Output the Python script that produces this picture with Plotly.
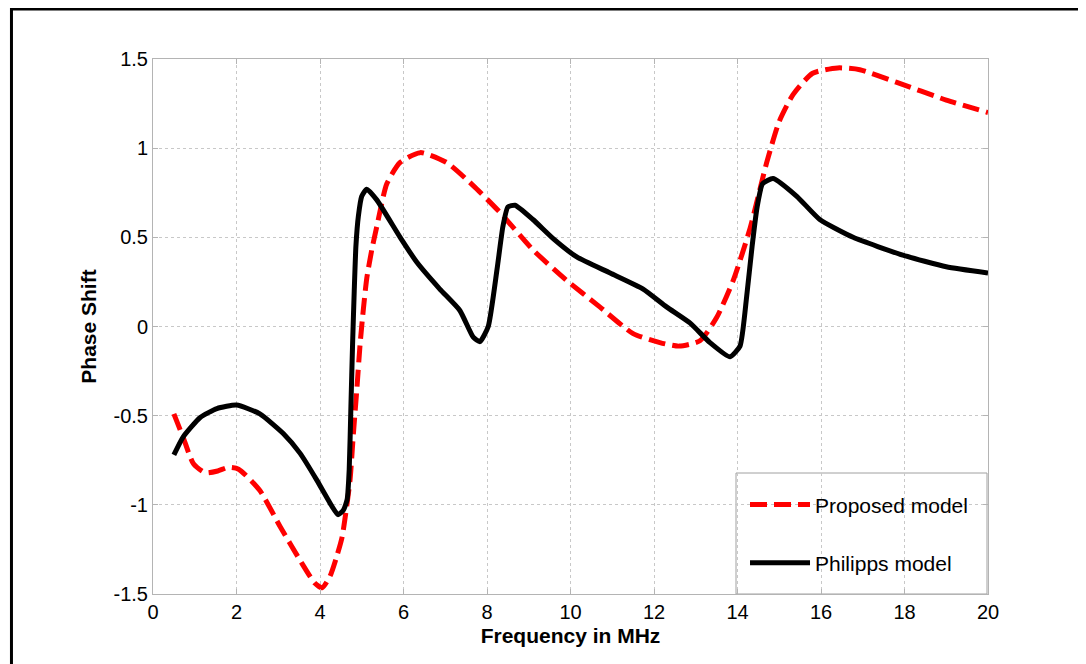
import plotly.graph_objects as go

# Proposed model (red dashed)
prop_x = [0.5, 0.72, 0.97, 1.25, 1.55, 1.8, 2.05, 2.56, 3.04, 3.52, 3.88, 4.05, 4.24, 4.4, 4.53,
          4.65, 4.72, 4.8, 4.88, 4.96, 5.04, 5.12, 5.24, 5.36, 5.6, 5.92, 6.4, 7.03, 7.67, 8.31,
          9.1, 9.9, 10.7, 11.5, 12.14, 12.6, 13.1, 13.5, 13.9, 14.3, 14.7, 15.0, 15.33, 15.8,
          16.4, 16.93, 17.8, 19.0, 20.0]
prop_y = [-0.49, -0.62, -0.77, -0.82, -0.81, -0.79, -0.80, -0.92, -1.12, -1.31, -1.44, -1.465, -1.40, -1.29, -1.18,
          -0.99, -0.86, -0.60, -0.36, -0.10, 0.10, 0.27, 0.43, 0.56, 0.80, 0.92, 0.975, 0.92, 0.79, 0.64,
          0.43, 0.26, 0.11, -0.04, -0.09, -0.11, -0.08, 0.05, 0.26, 0.55, 0.92, 1.15, 1.30, 1.42,
          1.45, 1.44, 1.37, 1.27, 1.20]

# Philipps model (black solid)
phil_x = [0.5, 0.72, 1.13, 1.53, 2.0, 2.56, 3.12, 3.52, 3.92, 4.24, 4.43, 4.56, 4.65, 4.7, 4.74,
          4.78, 4.82, 4.86, 4.92, 5.0, 5.12, 5.36, 5.92, 6.32, 6.87, 7.35, 7.67, 7.83, 8.03, 8.24,
          8.38, 8.5, 8.67, 9.1, 9.6, 10.15, 10.95, 11.74, 12.3, 12.86, 13.34, 13.82, 14.06, 14.22,
          14.35, 14.47, 14.6, 14.85, 15.42, 15.97, 16.77, 17.96, 19.0, 20.0]
phil_y = [-0.72, -0.62, -0.51, -0.46, -0.44, -0.49, -0.60, -0.71, -0.86, -0.99, -1.055, -1.03, -0.97, -0.80, -0.45,
          -0.10, 0.20, 0.45, 0.62, 0.73, 0.77, 0.71, 0.50, 0.36, 0.21, 0.09, -0.06, -0.085, 0.0, 0.32,
          0.56, 0.67, 0.68, 0.60, 0.49, 0.39, 0.30, 0.21, 0.11, 0.02, -0.09, -0.17, -0.11, 0.17,
          0.45, 0.67, 0.80, 0.83, 0.73, 0.60, 0.50, 0.40, 0.335, 0.30]

x_ticks = [0, 2, 4, 6, 8, 10, 12, 14, 16, 18, 20]
y_ticks = [-1.5, -1, -0.5, 0, 0.5, 1, 1.5]
y_tick_text = ["-1.5", "-1", "-0.5", "0", "0.5", "1", "1.5"]

font_family = "Liberation Sans, Arial, sans-serif"

fig = go.Figure()
fig.add_trace(go.Scatter(
    x=prop_x, y=prop_y, mode="lines", name="Proposed model", legendgroup="a",
    line=dict(color="#ff0000", width=5, dash="17px,7px", shape="spline", smoothing=0.6),
))
fig.add_trace(go.Scatter(
    x=phil_x, y=phil_y, mode="lines", name="Philipps model", legendgroup="b",
    line=dict(color="#000000", width=5, shape="spline", smoothing=0.5),
))

axis_common = dict(
    showline=True, linecolor="#b4b4b4", linewidth=1, mirror="ticks",
    ticks="inside", ticklen=5, tickcolor="#b4b4b4",
    showgrid=True, gridcolor="#c8c8c8", griddash="dot", gridwidth=1,
    zeroline=False,
    tickfont=dict(family=font_family, size=20, color="#000000"),
)

fig.update_xaxes(
    range=[0, 20], tickmode="array", tickvals=x_ticks,
    title=dict(text="<b>Frequency in MHz</b>", font=dict(family=font_family, size=21, color="#000"), standoff=6),
    **axis_common,
)
fig.update_yaxes(
    range=[-1.5, 1.5], tickmode="array", tickvals=y_ticks, ticktext=y_tick_text,
    title=dict(text="<b>Phase Shift</b>", font=dict(family=font_family, size=21, color="#000"), standoff=11),
    **axis_common,
)

fig.update_layout(
    width=1078, height=656,
    margin=dict(l=145, r=98, t=51, b=70, autoexpand=False),
    paper_bgcolor="white", plot_bgcolor="white",
    showlegend=True,
    legend=dict(
        x=0.709, y=0.205, xanchor="left", yanchor="top",
        bgcolor="rgba(0,0,0,0)", borderwidth=0,
        font=dict(family=font_family, size=21, color="#000"),
        traceorder="grouped", tracegroupgap=28, itemwidth=60,
    ),
    shapes=[
        # legend box
        dict(type="rect", xref="paper", yref="paper",
             x0=(736 - 153) / 835, x1=(987 - 153) / 835, y0=0.0, y1=(594 - 473) / 535,
             line=dict(color="#a0a0a0", width=1), fillcolor="white", layer="below"),
        # outer frame
        dict(type="rect", xref="paper", yref="paper",
             x0=-0.1695, x1=1.14, y0=-0.17, y1=1.0935,
             line=dict(color="black", width=3), fillcolor="rgba(0,0,0,0)", layer="above"),
    ],
)

fig.write_html("out.html")
